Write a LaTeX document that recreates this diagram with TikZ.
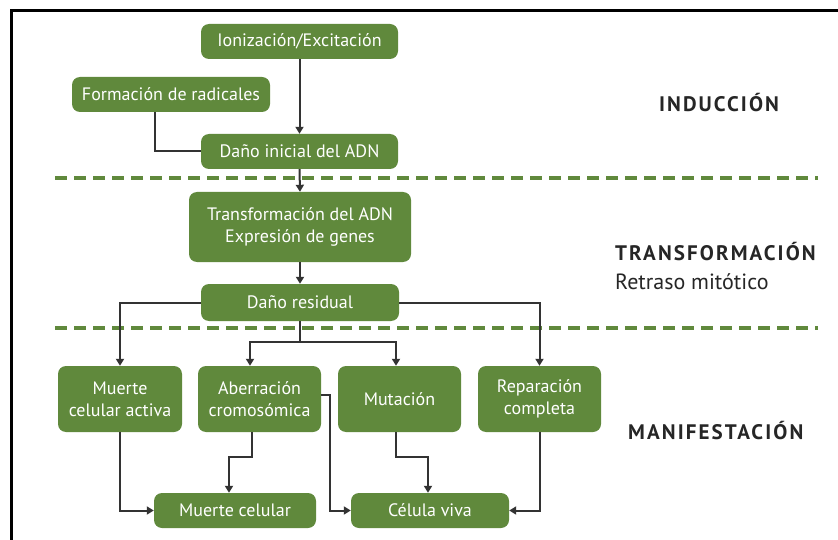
\documentclass[tikz,border=0pt]{standalone}
\usepackage{fontspec}
\setmainfont{PT Sans}
\usetikzlibrary{arrows.meta,calc}
\definecolor{boxgreen}{RGB}{96,137,60}
\definecolor{linegray}{RGB}{51,51,51}
\begin{document}
\begin{tikzpicture}[x=1pt,y=-1pt,
  gbox/.style={draw=none,fill=boxgreen,rounded corners=8pt,text=white,
    font=\fontsize{18}{22}\selectfont,align=center,inner sep=0pt},
  conn/.style={draw=linegray,line width=2pt},
  arr/.style={conn,-{Triangle[length=7pt,width=8pt]}},
  sep/.style={draw=boxgreen,line width=3.2pt,dash pattern=on 12pt off 7pt},
  phase/.style={font=\fontsize{21}{24}\selectfont\bfseries\addfontfeature{LetterSpace=10},text=black!85,inner sep=0pt}]
\useasboundingbox (0,0) rectangle (838,540);
\fill[white] (0,0) rectangle (838,540);
% frame
\draw[black,line width=3pt] (11,540) -- (11,11) -- (838,11);
% separators
\draw[sep] (55,178) -- (818,178);
\draw[sep] (55,328) -- (818,328);
% nodes
\node[gbox,minimum width=197pt,minimum height=35pt] (ion) at (299.5,41.5) {Ionización/Excitación};
\node[gbox,minimum width=198pt,minimum height=35pt] (rad) at (171,94.5) {Formación de radicales};
\node[gbox,minimum width=197pt,minimum height=35pt] (dano) at (299.5,151.5) {Daño inicial del ADN};
\node[gbox,minimum width=222pt,minimum height=70pt] (trans) at (300,227) {Transformación del ADN\\Expresión de genes};
\node[gbox,minimum width=198pt,minimum height=37pt] (resid) at (300,302.5) {Daño residual};
\node[gbox,minimum width=124pt,minimum height=66pt] (mca) at (120,399) {Muerte\\celular activa};
\node[gbox,minimum width=123pt,minimum height=66pt] (aber) at (259.5,399) {Aberración\\cromosómica};
\node[gbox,minimum width=123pt,minimum height=66pt] (mut) at (399.5,399) {Mutación};
\node[gbox,minimum width=123pt,minimum height=66pt] (rep) at (539.5,399) {Reparación\\completa};
\node[gbox,minimum width=162pt,minimum height=35pt] (mc) at (235,510.5) {Muerte celular};
\node[gbox,minimum width=158pt,minimum height=35pt] (cv) at (430,510.5) {Célula viva};
% phase labels
\node[phase] (ind) at (719,103) {INDUCCIÓN};
\node[phase,anchor=west] (tra) at (615,252) {TRANSFORMACIÓN};
\node[anchor=west,inner sep=0pt,font=\fontsize{22}{24}\selectfont,text=black!85] (ret) at (615,282) {Retraso mitótico};
\node[phase,anchor=west] (man) at (628,431) {MANIFESTACIÓN};
% connectors
\draw[arr] (ion.south) -- (dano.north);
\draw[conn] ($(rad.south)+(-16,0)$) |- (dano.west);
\draw[arr] (dano.south) -- (trans.north);
\draw[arr] (trans.south) -- (resid.north);
\draw[arr] (resid.west) -| (mca.north);
\draw[arr] (resid.east) -| (rep.north);
\coordinate (j) at ($(resid.south)+(0,21)$);
\draw[conn] (resid.south) -- (j);
\draw[arr] (j) -| ($(aber.north)+(-9.5,0)$);
\draw[arr] (j) -| ($(mut.north)+(-3.5,0)$);
\draw[arr] (mca.south) |- (mc.west);
\draw[arr] ($(aber.south)+(-7.5,0)$) -- ++(0,25) -| ($(mc.north)+(-6,0)$);
\draw[arr] ($(aber.east)+(0,-4)$) -- ++(9,0) |- (cv.west);
\draw[arr] ($(mut.south)+(-3.5,0)$) -- ++(0,25) -| ($(cv.north)+(-2,0)$);
\draw[arr] (rep.south) |- (cv.east);
\end{tikzpicture}
\end{document}
